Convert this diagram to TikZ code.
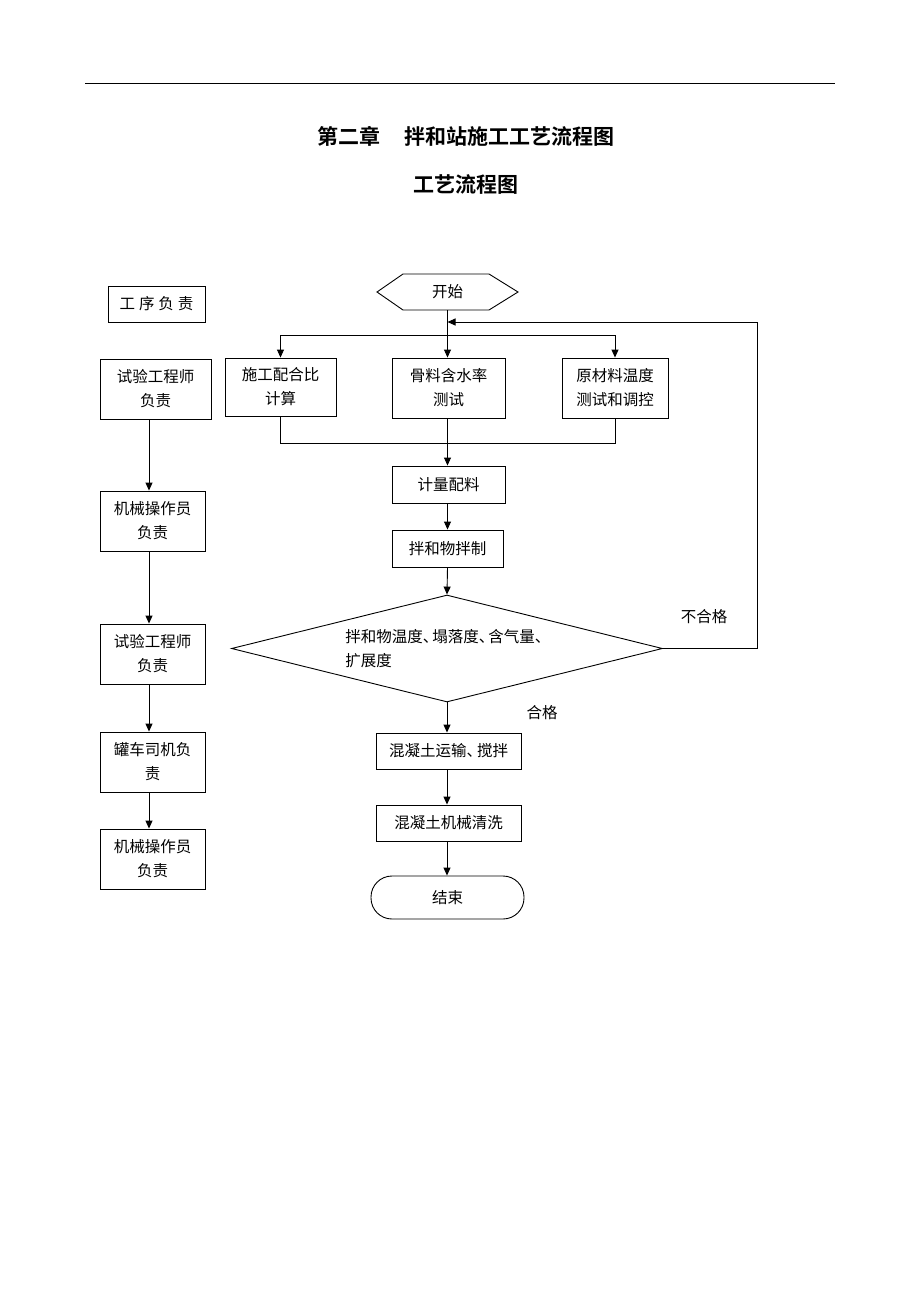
\documentclass[tikz,border=0pt]{standalone}
\usepackage{fontspec}
\setmainfont{Noto Sans CJK SC}
\newfontfamily\cjkbold{Noto Sans CJK SC Bold}
\usetikzlibrary{arrows.meta,shapes.geometric}
\begin{document}
\begin{tikzpicture}[x=1pt,y=-1pt,
  line width=0.9pt,
  every node/.style={font=\fontsize{15.5}{24}\selectfont, inner sep=0pt},
  box/.style={draw, rectangle, align=center},
  arr/.style={-{Triangle[length=8pt,width=7pt]}},
  lbl/.style={font=\fontsize{15.5}{24}\selectfont}]
\useasboundingbox (0,0) rectangle (920,1302);
% top rule
\draw (85,83) -- (835,83);
% titles
\node[font=\cjkbold\fontsize{21}{24}\selectfont] (title1) at (466,136) {第二章\hspace{24pt}拌和站施工工艺流程图};
\node[font=\cjkbold\fontsize{21}{24}\selectfont] (title2) at (466,185) {工艺流程图};

% left column
\node[box, minimum width=97pt, minimum height=36pt] (L0) at (156.5,304) {工\hspace{4pt}序\hspace{4pt}负\hspace{4pt}责};
\node[box, minimum width=111pt, minimum height=60pt] (L1) at (155.5,389) {试验工程师\\负责};
\node[box, minimum width=105pt, minimum height=60pt] (L2) at (152.5,521) {机械操作员\\负责};
\node[box, minimum width=105pt, minimum height=60pt] (L3) at (152.5,654) {试验工程师\\负责};
\node[box, minimum width=105pt, minimum height=60pt] (L4) at (152.5,762) {罐车司机负\\责};
\node[box, minimum width=105pt, minimum height=60pt] (L5) at (152.5,859) {机械操作员\\负责};
\draw[arr] (L1.south -| 149,0) -- (L2.north -| 149,0);
\draw[arr] (L2.south -| 149,0) -- (L3.north -| 149,0);
\draw[arr] (L3.south -| 149,0) -- (L4.north -| 149,0);
\draw[arr] (L4.south -| 149,0) -- (L5.north -| 149,0);

% start hexagon
\node[minimum width=141pt, minimum height=36pt] (start) at (447.5,292) {开始};
\draw (377,292) -- (403,274) -- (489,274) -- (518,292) -- (489,310) -- (403,310) -- cycle;

% three boxes
\node[box, minimum width=111pt, minimum height=58pt] (A) at (280.5,387) {施工配合比\\计算};
\node[box, minimum width=113pt, minimum height=60pt] (B) at (448.5,388) {骨料含水率\\测试};
\node[box, minimum width=106pt, minimum height=60pt] (C) at (615,388) {原材料温度\\测试和调控};
\coordinate (split) at (447.5,335);
\coordinate (join) at (447.5,443);
\coordinate (fb) at (447.5,322);
\draw (447.5,310) -- (split);
\draw[arr] (split) -| (A.north);
\draw[arr] (split) -- (B.north -| split);
\draw[arr] (split) -| (C.north);
\draw (A.south) |- (join);
\draw (C.south) |- (join);
\draw (B.south -| join) -- (join);

\node[box, minimum width=113pt, minimum height=37pt] (D) at (448.5,484.5) {计量配料};
\node[box, minimum width=111pt, minimum height=37pt] (E) at (447.5,548.5) {拌和物拌制};
\draw[arr] (join) -- (D.north -| join);
\draw[arr] (D.south -| join) -- (E.north -| join);

% decision diamond
\node[draw, diamond, minimum width=431pt, minimum height=107pt] (dec) at (447,648.5) {};
\node[align=left, anchor=west] (dectext) at (345,649) {拌和物温度、\hspace{-6pt}塌落度、\hspace{-6pt}含气量、\\扩展度};
\draw[arr] (E.south -| join) -- (dec.north);

% feedback
\coordinate (fbr) at (757,648.5);
\draw[arr] (dec.east) -- (fbr) |- (fb);
\node[lbl] (ng) at (704,617) {不合格};
\node[lbl] (ok) at (542,713) {合格};

\node[box, minimum width=145pt, minimum height=36pt] (F) at (448.5,751) {混凝土运输、\hspace{-5pt}搅拌};
\node[box, minimum width=145pt, minimum height=36pt] (G) at (448.5,823) {混凝土机械清洗};
\node[draw, rectangle, rounded corners=21pt, minimum width=153pt, minimum height=43pt] (H) at (447.5,897.5) {结束};
\draw[arr] (dec.south) -- (F.north -| dec.south);
\draw[arr] (F.south -| dec.south) -- (G.north -| dec.south);
\draw[arr] (G.south -| dec.south) -- (H.north -| dec.south);
\end{tikzpicture}
\end{document}
